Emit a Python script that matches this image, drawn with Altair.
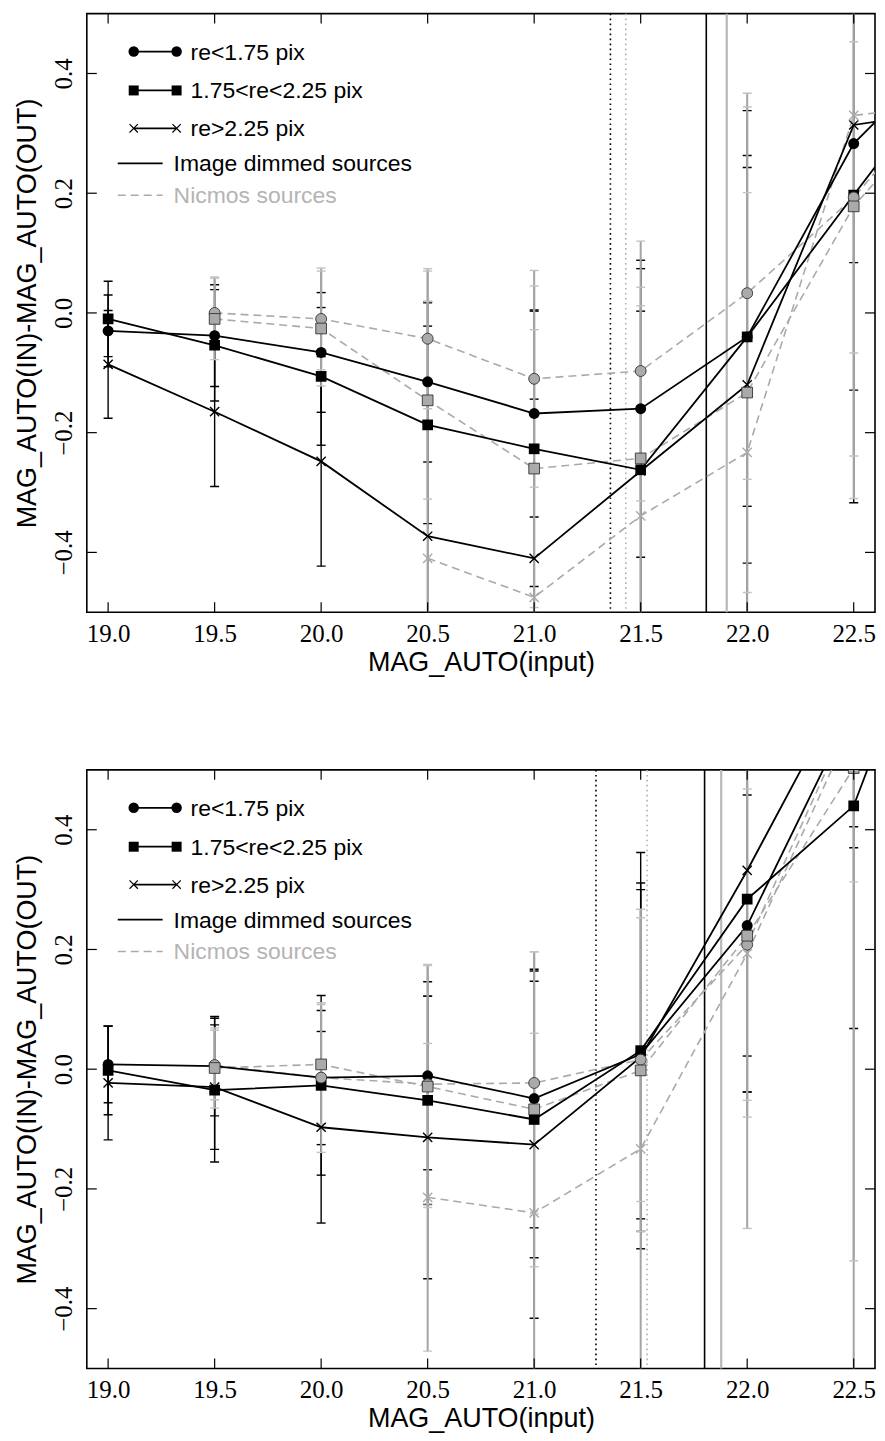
import altair as alt
import pandas as pd

MAGS = [19.0, 19.5, 20.0, 20.5, 21.0, 21.5, 22.0, 22.5, 23.0]
X_TICKS = [19.0, 19.5, 20.0, 20.5, 21.0, 21.5, 22.0, 22.5]
Y_TICKS = [-0.4, -0.2, 0.0, 0.2, 0.4]
X_DOMAIN = [18.9, 22.6]
Y_DOMAIN = [-0.5, 0.5]

# ---------------- top panel ----------------
top_img_circle = [-0.030, -0.038, -0.066, -0.115, -0.168, -0.160, -0.040, 0.283, 0.46]
top_img_circle_err = [0.060, 0.085, 0.100, 0.134, 0.173, 0.248, 0.283, 0.600, 0.60]
top_img_square = [-0.010, -0.054, -0.106, -0.187, -0.227, -0.262, -0.040, 0.197, 0.43]
top_img_square_err = [0.063, 0.093, 0.115, 0.165, 0.230, 0.336, 0.378, 0.326, 0.40]
top_img_cross = [-0.086, -0.165, -0.248, -0.373, -0.410, -0.264, -0.120, 0.314, 0.34]
top_img_cross_err = [0.090, 0.125, 0.175, 0.390, 0.266, 0.267, 0.383, 0.230, 0.40]
top_nic_circle = [None, 0.000, -0.010, -0.043, -0.110, -0.097, 0.033, 0.193, 0.40]
top_nic_circle_err = [None, 0.060, 0.085, 0.117, 0.181, 0.217, 0.311, 0.260, 0.50]
top_nic_square = [None, -0.010, -0.026, -0.146, -0.260, -0.243, -0.133, 0.178, 0.38]
top_nic_square_err = [None, 0.068, 0.096, 0.165, 0.232, 0.286, 0.334, 0.417, 0.50]
top_nic_cross = [None, None, None, -0.410, -0.475, -0.339, -0.233, 0.330, 0.35]
top_nic_cross_err = [None, None, None, 0.480, 0.520, 0.351, 0.600, 0.640, 0.60]
top_vlines_black_dotted = [21.358]
top_vlines_gray_dotted = [21.43]
top_vlines_black_solid = [21.808]
top_vlines_gray_solid = [21.904]

# ---------------- bottom panel ----------------
bot_img_circle = [0.008, 0.005, -0.014, -0.011, -0.049, 0.025, 0.240, 0.605, 0.95]
bot_img_circle_err = [0.064, 0.083, 0.112, 0.157, 0.216, 0.275, 0.218, 0.200, 0.30]
bot_img_square = [-0.002, -0.035, -0.027, -0.052, -0.084, 0.031, 0.284, 0.440, 0.91]
bot_img_square_err = [0.074, 0.120, 0.150, 0.174, 0.231, 0.331, 0.322, 0.372, 0.40]
bot_img_cross = [-0.023, -0.030, -0.097, -0.114, -0.126, 0.020, 0.332, 0.665, 0.90]
bot_img_cross_err = [0.095, 0.104, 0.160, 0.236, 0.290, 0.291, 0.370, 0.295, 0.40]
bot_nic_circle = [None, 0.007, -0.014, -0.025, -0.023, 0.016, 0.208, 0.600, 0.90]
bot_nic_circle_err = [None, 0.058, 0.125, 0.200, 0.219, 0.237, 0.260, 1.200, 1.00]
bot_nic_square = [None, 0.002, 0.008, -0.029, -0.067, -0.002, 0.223, 0.503, 0.90]
bot_nic_square_err = [None, 0.067, 0.100, 0.202, 0.263, 0.269, 0.303, 0.190, 1.00]
bot_nic_cross = [None, None, None, -0.214, -0.240, -0.133, 0.193, 0.580, 0.90]
bot_nic_cross_err = [None, None, None, 0.257, 0.300, 0.400, 0.459, 0.900, 1.00]
bot_vlines_black_dotted = [21.29]
bot_vlines_gray_dotted = [21.53]
bot_vlines_black_solid = [21.80]
bot_vlines_gray_solid = [21.878]

LEGEND_LABELS = ["re<1.75 pix", "1.75<re<2.25 pix", "re>2.25 pix",
                 "Image dimmed sources", "Nicmos sources"]

W, H = 790, 600
GRAY = "#aaaaaa"
CROSS = "M-1,-1L1,1M-1,1L1,-1"
SANS = "Liberation Sans"
SERIF = "Liberation Serif"

X_AXIS = alt.Axis(title="MAG_AUTO(input)", values=X_TICKS, format=".1f",
                  labelPadding=9, titlePadding=3)
Y_AXIS = alt.Axis(title="MAG_AUTO(IN)-MAG_AUTO(OUT)", values=Y_TICKS, format=".1f",
                  labelAngle=270, labelAlign="center", labelBaseline="bottom",
                  labelPadding=10, titlePadding=10)
XS = alt.Scale(domain=X_DOMAIN, nice=False, zero=False)
YS = alt.Scale(domain=Y_DOMAIN, nice=False, zero=False)


def X(f):
    return alt.X(f, scale=XS, axis=X_AXIS)


def Y(f):
    return alt.Y(f, scale=YS, axis=Y_AXIS)


def build_df(series):
    rows = []
    for src, ser, vals, errs in series:
        for m, v, e in zip(MAGS, vals, errs):
            if v is None:
                continue
            rows.append(dict(mag=m, val=v, lo=v - e, hi=v + e, src=src, ser=ser))
    return pd.DataFrame(rows)


def legend_layers():
    layers = []
    base = alt.Chart(alt.Data(values=[{"a": 1}]))
    text_y = [46, 85, 123, 158, 190]
    sym_y = [t - 8 for t in text_y]
    shapes = [("circle", True, 110), ("square", True, 100), (CROSS, False, 70)]
    for i, (shape, filled, size) in enumerate(shapes):
        yc = sym_y[i]
        layers.append(base.mark_rule(color="black", strokeWidth=1.8).encode(
            x=alt.value(47), x2=alt.value(90), y=alt.value(yc)))
        for px in (47, 90):
            layers.append(base.mark_point(shape=shape, filled=filled, size=size,
                                          color="black", opacity=1,
                                          strokeWidth=1.2).encode(
                x=alt.value(px), y=alt.value(yc)))
        layers.append(base.mark_text(align="left", baseline="alphabetic", font=SANS,
                                     fontSize=23, color="black").encode(
            x=alt.value(104), y=alt.value(text_y[i]), text=alt.value(LEGEND_LABELS[i])))
    layers.append(base.mark_rule(color="black", strokeWidth=1.8).encode(
        x=alt.value(31), x2=alt.value(76), y=alt.value(sym_y[3])))
    layers.append(base.mark_text(align="left", baseline="alphabetic", font=SANS,
                                 fontSize=23, color="black").encode(
        x=alt.value(87), y=alt.value(text_y[3]), text=alt.value(LEGEND_LABELS[3])))
    layers.append(base.mark_rule(color=GRAY, strokeWidth=1.6, strokeDash=[8, 5]).encode(
        x=alt.value(31), x2=alt.value(76), y=alt.value(sym_y[4])))
    layers.append(base.mark_text(align="left", baseline="alphabetic", font=SANS,
                                 fontSize=23, color="#b4b4b4").encode(
        x=alt.value(87), y=alt.value(text_y[4]), text=alt.value(LEGEND_LABELS[4])))
    return layers


def panel(series, vbd, vgd, vbs, vgs):
    df = build_df(series)
    base = alt.Chart(df)
    layers = []
    # vertical reference lines
    for vals, color, width, dash in [(vbd, "black", 1.6, [1.6, 3.4]),
                                     (vgd, "#b0b0b0", 1.6, [1.6, 3.4]),
                                     (vbs, "black", 1.6, None),
                                     (vgs, "#b8b8b8", 2.2, None)]:
        kw = dict(color=color, strokeWidth=width)
        if dash:
            kw["strokeDash"] = dash
        layers.append(alt.Chart(pd.DataFrame({"pos": vals})).mark_rule(**kw).encode(x=X("pos:Q")))
    # error bars (image first, nicmos drawn over)
    for src, color, capcolor, width in [("Image", "black", "black", 1.4),
                                        ("Nicmos", "#a4a4a4", "#c2c2c2", 2.0)]:
        sub = base.transform_filter(alt.datum.src == src)
        layers.append(sub.mark_rule(color=color, strokeWidth=width, clip=True).encode(
            x=X("mag:Q"), y=Y("lo:Q"), y2="hi:Q"))
        for f in ("lo:Q", "hi:Q"):
            layers.append(sub.mark_tick(orient="horizontal", color=capcolor, size=9,
                                        thickness=1.4, clip=True, opacity=1).encode(
                x=X("mag:Q"), y=Y(f)))
    # lines
    layers.append(base.transform_filter(alt.datum.src == "Nicmos").mark_line(
        color=GRAY, strokeWidth=1.6, strokeDash=[8, 5], clip=True).encode(
        x=X("mag:Q"), y=Y("val:Q"), detail="ser:N", order="mag:Q"))
    layers.append(base.transform_filter(alt.datum.src == "Image").mark_line(
        color="black", strokeWidth=1.8, clip=True).encode(
        x=X("mag:Q"), y=Y("val:Q"), detail="ser:N", order="mag:Q"))
    # markers
    for src in ("Image", "Nicmos"):
        for ser, shape, size in [("circle", "circle", 120), ("square", "square", 115),
                                 ("cross", CROSS, 85)]:
            sub = base.transform_filter((alt.datum.src == src) & (alt.datum.ser == ser))
            if ser == "cross":
                mk = sub.mark_point(shape=CROSS, filled=False, size=size, opacity=1,
                                    color="black" if src == "Image" else GRAY,
                                    strokeWidth=1.4, clip=True)
            elif src == "Image":
                mk = sub.mark_point(shape=shape, filled=True, size=size, opacity=1,
                                    color="black", clip=True)
            else:
                mk = sub.mark_point(shape=shape, filled=True, size=size, opacity=1,
                                    fill=GRAY, stroke="#333333", strokeWidth=0.9,
                                    clip=True)
            layers.append(mk.encode(x=X("mag:Q"), y=Y("val:Q")))
    # inner ticks
    tx = alt.Chart(pd.DataFrame({"t": X_TICKS}))
    ty = alt.Chart(pd.DataFrame({"t": Y_TICKS}))
    layers.append(tx.mark_rule(color="black", strokeWidth=1.2).encode(
        x=X("t:Q"), y=alt.value(H), y2=alt.value(H - 10)))
    layers.append(tx.mark_rule(color="black", strokeWidth=1.2).encode(
        x=X("t:Q"), y=alt.value(0), y2=alt.value(10)))
    layers.append(ty.mark_rule(color="black", strokeWidth=1.2).encode(
        y=Y("t:Q"), x=alt.value(0), x2=alt.value(10)))
    layers.append(ty.mark_rule(color="black", strokeWidth=1.2).encode(
        y=Y("t:Q"), x=alt.value(W), x2=alt.value(W - 10)))
    layers += legend_layers()
    return alt.layer(*layers).properties(width=W, height=H)


top = panel([
    ("Image", "circle", top_img_circle, top_img_circle_err),
    ("Image", "square", top_img_square, top_img_square_err),
    ("Image", "cross", top_img_cross, top_img_cross_err),
    ("Nicmos", "circle", top_nic_circle, top_nic_circle_err),
    ("Nicmos", "square", top_nic_square, top_nic_square_err),
    ("Nicmos", "cross", top_nic_cross, top_nic_cross_err),
], top_vlines_black_dotted, top_vlines_gray_dotted, top_vlines_black_solid,
    top_vlines_gray_solid)

bottom = panel([
    ("Image", "circle", bot_img_circle, bot_img_circle_err),
    ("Image", "square", bot_img_square, bot_img_square_err),
    ("Image", "cross", bot_img_cross, bot_img_cross_err),
    ("Nicmos", "circle", bot_nic_circle, bot_nic_circle_err),
    ("Nicmos", "square", bot_nic_square, bot_nic_square_err),
    ("Nicmos", "cross", bot_nic_cross, bot_nic_cross_err),
], bot_vlines_black_dotted, bot_vlines_gray_dotted, bot_vlines_black_solid,
    bot_vlines_gray_solid)

chart = alt.vconcat(top, bottom, spacing=92).properties(
    padding={"left": 5, "top": 2, "right": 0, "bottom": 0}
).configure_view(
    stroke="black", strokeWidth=1.6
).configure_axis(
    ticks=False, domain=False, grid=False,
    labelFont=SERIF, labelFontSize=25, labelColor="black",
    titleFont=SANS, titleFontSize=27, titleFontWeight="normal", titleColor="black"
)

chart.save("out.html", embed_options={"renderer": "svg", "actions": False})
